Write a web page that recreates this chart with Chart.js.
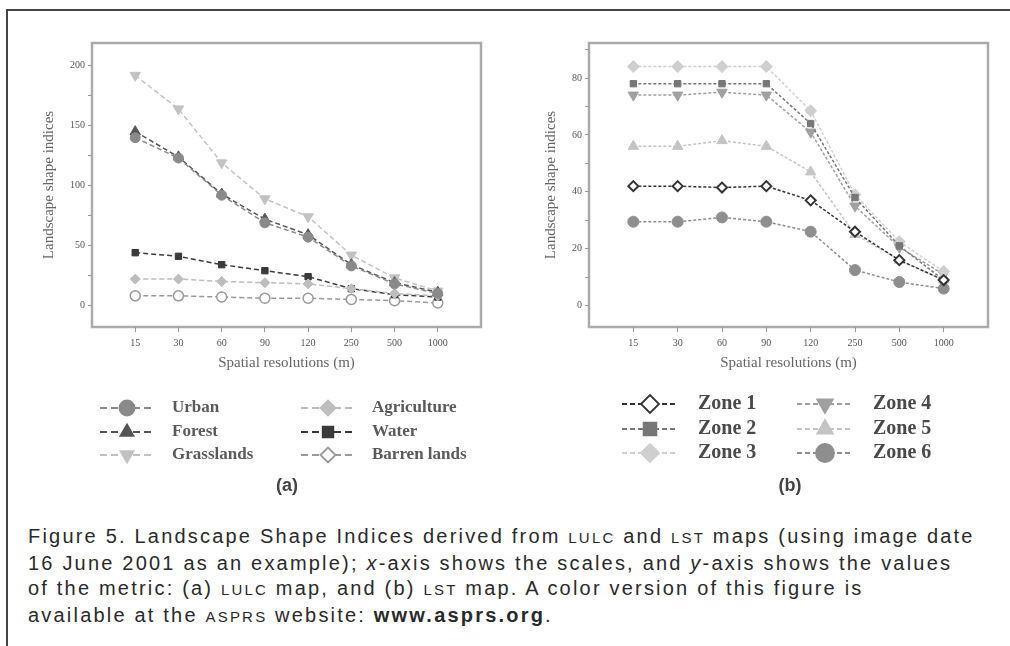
<!DOCTYPE html>
<html>
<head>
<meta charset="utf-8">
<script src="https://cdn.jsdelivr.net/npm/chart.js@4/dist/chart.umd.min.js"></script>
<style>
  body { margin: 0; width: 1010px; height: 646px; background: #fff; overflow: hidden; position: relative; }
  #frame { position: absolute; left: 6px; top: 9px; width: 1010px; height: 640px; border-top: 2px solid #444; border-left: 2px solid #444; }
  canvas { position: absolute; top: 0; }
  #chartA { left: 0; }
  #chartB { left: 505px; }
  .panel { position: absolute; top: 475px; width: 60px; margin-left: -30px; text-align: center;
           font: bold 18px "Liberation Sans", Arial, sans-serif; color: #444; }
  #caption { position: absolute; left: 28px; top: 524px; font: 20px "Liberation Sans", Arial, sans-serif;
             line-height: 25.5px; color: #2a2a2a; white-space: nowrap; letter-spacing: 2.2px; }
  .sc { font-size: 15px; }
</style>
</head>
<body>
<div id="frame"></div>
<canvas id="chartA" width="505" height="510"></canvas>
<canvas id="chartB" width="505" height="510"></canvas>
<div class="panel" style="left:287px">(a)</div>
<div class="panel" style="left:790px">(b)</div>
<div id="caption">
Figure 5. Landscape Shape Indices derived from <span class="sc">LULC</span> and <span class="sc">LST</span> maps (using image date<br>
16 June 2001 as an example); <i>x</i>-axis shows the scales, and <i>y</i>-axis shows the values<br>
of the metric: (a) <span class="sc">LULC</span> map, and (b) <span class="sc">LST</span> map. A color version of this figure is<br>
available at the <span class="sc">ASPRS</span> website: <b>www.asprs.org</b>.
</div>
<script>
// x categories (spatial resolution, m)
const resolutions = ['15', '30', '60', '90', '120', '250', '500', '1000'];

// (a) LULC map
const urban = [140, 123, 92, 69, 57, 33, 18, 10];
const forest = [145, 124, 93, 72, 59, 34, 19, 11];
const grasslands = [192, 164, 119, 89, 74, 42, 23, 12];
const agriculture = [22, 22, 20, 19, 18, 14, 10, 8];
const water = [44, 41, 34, 29, 24, 14, 9, 7];
const barren = [8, 8, 7, 6, 6, 5, 4, 2];
const ticksA = [0, 25, 50, 75, 100, 125, 150, 175, 200];

// (b) LST map
const zone1 = [42, 42, 41.5, 42, 37, 26, 16, 9];
const zone2 = [78, 78, 78, 78, 64, 38, 21, 9];
const zone3 = [84, 84, 84, 84, 68.5, 39, 22.5, 12];
const zone4 = [74, 74, 75, 74, 61, 35, 20.5, 11];
const zone5 = [56, 56, 58, 56, 47, 25, 16, 9];
const zone6 = [29.5, 29.5, 31, 29.5, 26, 12.5, 8.3, 6];
const ticksB = [0, 10, 20, 30, 40, 50, 60, 70, 80, 90];

const pts = vals => vals.map((v, i) => ({ x: i, y: v }));

function series(label, vals, color, style, opts) {
    return Object.assign({
        label: label,
        data: pts(vals),
        borderColor: color,
        backgroundColor: color,
        pointBackgroundColor: color,
        pointBorderColor: color,
        pointStyle: style,
        pointRadius: 5,
        pointBorderWidth: 1,
        borderWidth: 1.5,
        borderDash: [5, 3],
        tension: 0
    }, opts || {});
}

// box round the plot area
const framePlugin = {
    id: 'frame',
    beforeDraw(chart) {
        const a = chart.chartArea, ctx = chart.ctx;
        ctx.save();
        ctx.strokeStyle = '#ababab';
        ctx.lineWidth = 2.5;
        ctx.strokeRect(a.left, a.top, a.right - a.left, a.bottom - a.top);
        ctx.restore();
    }
};

// two column legend under the plot
const gridLegend = {
    id: 'gridLegend',
    afterDraw(chart, args, o) {
        const ctx = chart.ctx;
        chart.data.datasets.forEach((ds, i) => {
            const col = Math.floor(i / 3), row = i % 3;
            const mx = o.markerX[col], y = o.rows[row];
            ctx.save();
            ctx.strokeStyle = ds.borderColor;
            ctx.lineWidth = 1.8;
            ctx.setLineDash(o.dash);
            ctx.beginPath();
            ctx.moveTo(mx - o.half, y);
            ctx.lineTo(mx + o.half, y);
            ctx.stroke();
            ctx.setLineDash([]);
            ctx.fillStyle = ds.pointBackgroundColor;
            ctx.strokeStyle = ds.pointBorderColor;
            Chart.helpers.drawPoint(ctx, {
                pointStyle: ds.legendStyle || ds.pointStyle,
                rotation: ds.pointRotation || 0,
                radius: o.radius,
                borderWidth: ds.pointBorderWidth
            }, mx, y);
            ctx.fillStyle = o.color;
            ctx.font = o.font;
            ctx.textBaseline = 'middle';
            ctx.fillText(ds.label, o.textX[col], y);
            ctx.restore();
        });
    }
};

function options(cfg) {
    return {
        responsive: false,
        animation: false,
        layout: { padding: cfg.padding },
        plugins: {
            legend: { display: false },
            tooltip: { enabled: false },
            gridLegend: cfg.legend
        },
        scales: {
            x: {
                type: 'linear',
                min: -1,
                max: 8,
                afterBuildTicks: s => { s.ticks = resolutions.map((r, i) => ({ value: i })); },
                afterFit: s => { s.height = 55; },
                border: { display: false },
                grid: { drawOnChartArea: false, tickLength: 5, color: '#999' },
                ticks: {
                    autoSkip: false, maxRotation: 0, padding: 5, color: '#555',
                    font: { family: 'Liberation Serif', size: 10 },
                    callback: v => resolutions[v]
                },
                title: {
                    display: true, text: 'Spatial resolutions (m)', color: '#666',
                    font: { family: 'Liberation Serif', size: 15 },
                    padding: { top: 0, bottom: 10 }
                }
            },
            y: {
                min: cfg.yMin,
                max: cfg.yMax,
                afterBuildTicks: s => { s.ticks = cfg.ticks.map(v => ({ value: v })); },
                afterFit: s => { s.width = 62; },
                border: { display: false },
                grid: { drawOnChartArea: false, tickLength: 4, color: '#999' },
                ticks: {
                    padding: 3, color: '#555',
                    font: { family: 'Liberation Serif', size: 10 },
                    callback: v => (v % cfg.labelStep === 0 ? v : '')
                },
                title: {
                    display: true, text: 'Landscape shape indices', color: '#666',
                    font: { family: 'Liberation Serif', size: 15 },
                    padding: { top: cfg.titlePad, bottom: 0 }
                }
            }
        }
    };
}

new Chart(document.getElementById('chartA'), {
    type: 'line',
    data: {
        datasets: [
            series('Urban', urban, '#8a8a8a', 'circle'),
            series('Forest', forest, '#555555', 'triangle', { pointRadius: 6 }),
            series('Grasslands', grasslands, '#c2c2c2', 'triangle', { pointRadius: 6, pointRotation: 180 }),
            series('Agriculture', agriculture, '#bdbdbd', 'rectRot'),
            series('Water', water, '#3a3a3a', 'rect', { pointRadius: 4.5 }),
            series('Barren lands', barren, '#9a9a9a', 'circle',
                { pointBackgroundColor: '#fff', pointBorderWidth: 1.5, legendStyle: 'rectRot' })
        ]
    },
    options: options({
        padding: { left: 30, right: 24, top: 43, bottom: 128 },
        yMin: -18, yMax: 219, ticks: ticksA, labelStep: 50, titlePad: 10,
        legend: {
            markerX: [127, 328], textX: [172, 372], rows: [408, 432, 455],
            half: 27, dash: [7, 4], radius: 7.5, color: '#5a5a5a',
            font: 'bold 17px "Liberation Serif"'
        }
    }),
    plugins: [framePlugin, gridLegend]
});

new Chart(document.getElementById('chartB'), {
    type: 'line',
    data: {
        datasets: [
            series('Zone 1', zone1, '#333333', 'rectRot',
                { pointBackgroundColor: '#fff', pointBorderWidth: 2, borderDash: [3, 2] }),
            series('Zone 2', zone2, '#777777', 'rect', { pointRadius: 4.5, borderDash: [3, 2] }),
            series('Zone 3', zone3, '#cfcfcf', 'rectRot', { pointRadius: 6, borderDash: [3, 2] }),
            series('Zone 4', zone4, '#a0a0a0', 'triangle', { pointRadius: 6, pointRotation: 180, borderDash: [3, 2] }),
            series('Zone 5', zone5, '#c4c4c4', 'triangle', { pointRadius: 6, borderDash: [3, 2] }),
            series('Zone 6', zone6, '#8e8e8e', 'circle', { pointRadius: 5.5, borderDash: [3, 2] })
        ]
    },
    options: options({
        padding: { left: 22, right: 22, top: 43, bottom: 128 },
        yMin: -7.5, yMax: 92.3, ticks: ticksB, labelStep: 20, titlePad: 15,
        legend: {
            markerX: [145, 320], textX: [193, 368], rows: [404, 429, 453],
            half: 28, dash: [5, 3], radius: 9, color: '#4a4a4a',
            font: 'bold 20px "Liberation Serif"'
        }
    }),
    plugins: [framePlugin, gridLegend]
});
</script>
</body>
</html>
